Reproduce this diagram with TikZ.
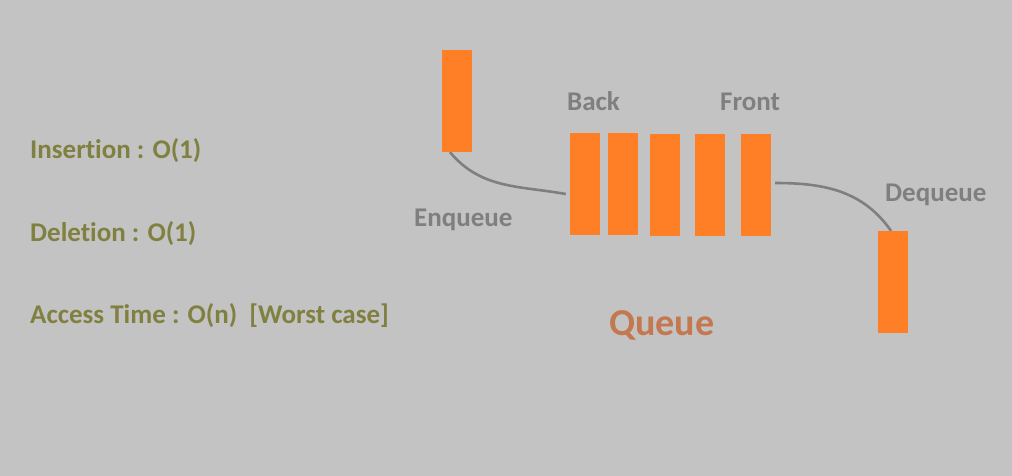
\documentclass[tikz,border=0pt]{standalone}
\usepackage{fontspec}
\setmainfont{Carlito}[Ligatures=NoCommon]
\definecolor{bggrey}{HTML}{C3C3C3}
\definecolor{barorange}{HTML}{FF7F27}
\definecolor{olivetext}{HTML}{808040}
\definecolor{greytext}{HTML}{7F7F7F}
\definecolor{queuetext}{HTML}{C47850}
\begin{document}
\begin{tikzpicture}[x=1pt,y=1pt,
    bar/.style={fill=barorange,minimum width=30pt,minimum height=102pt,inner sep=0pt},
    cost/.style={anchor=base west,inner sep=0pt,text=olivetext,font=\fontsize{27}{30}\selectfont\bfseries},
    tag/.style={anchor=base west,inner sep=0pt,text=greytext,font=\fontsize{27}{30}\selectfont\bfseries},
    link/.style={draw=greytext,line width=2.6pt}]
    % canvas
    \fill[bggrey] (0,0) rectangle (1012,-476);
    \useasboundingbox (0,0) rectangle (1012,-476);
    % costs on the left
    \node[cost] (ins) at (30,-159) {Insertion : O(1)};
    \node[cost] (del) at (30,-241) {Deletion : O(1)};
    \node[cost] (acc) at (30,-323) {Access Time : O(n)\ \ [Worst case]};
    % element waiting to go in
    \node[bar] (enq) at (457,-101) {};
    % the queue itself
    \foreach \n/\x/\y in {b1/585/-184,b2/623/-184,b3/665/-185,b4/710/-185,b5/756/-185}
        \node[bar] (\n) at (\x,\y) {};
    % element that left
    \node[bar] (deq) at (893,-282) {};
    % labels
    \node[tag] (back) at (567,-111) {Back};
    \node[tag] (front) at (720,-111) {Front};
    \node[tag] (enqlbl) at (414,-226) {Enqueue};
    \node[tag] (deqlbl) at (885,-201) {Dequeue};
    \node[anchor=base west,inner sep=0pt,text=queuetext,font=\fontsize{38}{41}\selectfont\bfseries] (title) at (609,-335) {Queue};
    % connectors
    \coordinate (enqout) at ([xshift=-7pt]enq.south);
    \coordinate (b1in) at ([xshift=-4pt,yshift=-10pt]b1.west);
    \coordinate (b5out) at ([xshift=4pt,yshift=2pt]b5.east);
    \coordinate (deqin) at ([xshift=-2pt]deq.north);
    \draw[link] (enqout) to[out=-50,in=170] (b1in);
    \draw[link] (b5out) to[out=0,in=125] (deqin);
\end{tikzpicture}
\end{document}
